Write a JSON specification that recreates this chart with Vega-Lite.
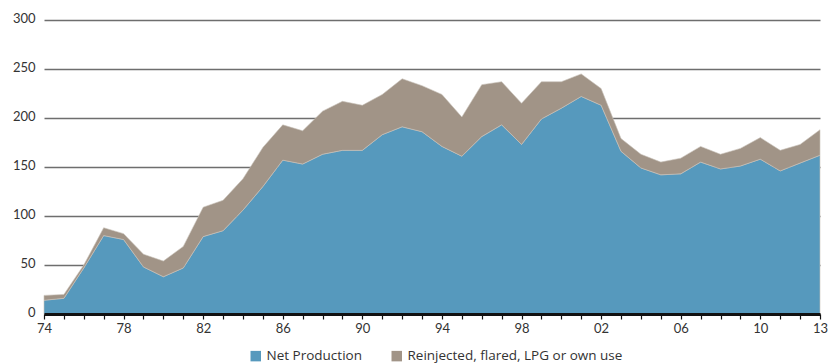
{
  "$schema": "https://vega.github.io/schema/vega-lite/v6.json",
  "width": 776,
  "height": 294,
  "autosize": "none",
  "padding": {"left": 44, "top": 20, "right": 15, "bottom": 49},
  "background": "white",
  "config": {
    "view": {"stroke": null},
    "font": "Lato"
  },
  "datasets": {
    "prod": [
      {"year": 1974, "net": 14, "total": 19},
      {"year": 1975, "net": 16, "total": 20},
      {"year": 1976, "net": 47, "total": 50},
      {"year": 1977, "net": 80, "total": 88},
      {"year": 1978, "net": 76, "total": 82},
      {"year": 1979, "net": 48, "total": 61},
      {"year": 1980, "net": 38, "total": 54},
      {"year": 1981, "net": 47, "total": 69},
      {"year": 1982, "net": 79, "total": 109},
      {"year": 1983, "net": 85, "total": 116},
      {"year": 1984, "net": 106, "total": 138},
      {"year": 1985, "net": 130, "total": 170},
      {"year": 1986, "net": 157, "total": 193},
      {"year": 1987, "net": 153, "total": 187},
      {"year": 1988, "net": 163, "total": 207},
      {"year": 1989, "net": 167, "total": 217},
      {"year": 1990, "net": 167, "total": 213},
      {"year": 1991, "net": 183, "total": 224},
      {"year": 1992, "net": 191, "total": 240},
      {"year": 1993, "net": 186, "total": 233},
      {"year": 1994, "net": 171, "total": 224},
      {"year": 1995, "net": 161, "total": 201},
      {"year": 1996, "net": 181, "total": 234},
      {"year": 1997, "net": 193, "total": 237},
      {"year": 1998, "net": 173, "total": 215},
      {"year": 1999, "net": 199, "total": 237},
      {"year": 2000, "net": 210, "total": 237},
      {"year": 2001, "net": 222, "total": 245},
      {"year": 2002, "net": 213, "total": 230},
      {"year": 2003, "net": 166, "total": 179},
      {"year": 2004, "net": 149, "total": 163},
      {"year": 2005, "net": 142, "total": 155},
      {"year": 2006, "net": 143, "total": 159},
      {"year": 2007, "net": 155, "total": 171},
      {"year": 2008, "net": 148, "total": 163},
      {"year": 2009, "net": 151, "total": 169},
      {"year": 2010, "net": 158, "total": 180},
      {"year": 2011, "net": 146, "total": 167},
      {"year": 2012, "net": 154, "total": 173},
      {"year": 2013, "net": 162, "total": 188}
    ]
  },
  "data": {"name": "prod"},
  "mark": {"type": "area", "stroke": "#c9c2bb", "strokeWidth": 0.6},
  "encoding": {
    "x": {
      "field": "year",
      "type": "quantitative",
      "scale": {"domain": [1974, 2013], "nice": false, "zero": false},
      "axis": {
        "title": null,
        "values": [1974,1975,1976,1977,1978,1979,1980,1981,1982,1983,1984,1985,1986,1987,1988,1989,1990,1991,1992,1993,1994,1995,1996,1997,1998,1999,2000,2001,2002,2003,2004,2005,2006,2007,2008,2009,2010,2011,2012,2013],
        "labelExpr": "indexof([1974,1978,1982,1986,1990,1994,1998,2002,2006,2010,2013], datum.value) >= 0 ? slice(toString(datum.value), 2) : ''",
        "grid": false,
        "domainColor": "#111",
        "domainWidth": 3,
        "tickColor": "#111",
        "tickWidth": 1.2,
        "tickSize": 5,
        "labelFont": "Lato",
        "labelFontSize": 13,
        "labelColor": "#333",
        "labelPadding": 3,
        "labelFlush": false,
        "labelOverlap": false,
        "zindex": 1
      }
    },
    "y": {
      "field": "value",
      "type": "quantitative",
      "stack": "zero",
      "scale": {"domain": [0, 300], "nice": false},
      "axis": {
        "title": null,
        "values": [0, 50, 100, 150, 200, 250, 300],
        "domain": false,
        "ticks": false,
        "grid": true,
        "gridColor": "#6e6e6e",
        "gridWidth": 1.3,
        "labelFont": "Lato",
        "labelFontSize": 13,
        "labelColor": "#333",
        "labelPadding": 9,
        "labelBaseline": "middle",
        "labelOffset": -2
      }
    },
    "color": {
      "field": "series",
      "type": "nominal",
      "scale": {
        "domain": ["Net Production", "Reinjected, flared, LPG or own use"],
        "range": ["#5699bd", "#a19487"]
      },
      "legend": {
        "title": null,
        "orient": "none",
        "legendX": 205,
        "legendY": 329,
        "direction": "horizontal",
        "symbolType": "square",
        "symbolSize": 110,
        "symbolStrokeWidth": 0,
        "symbolOpacity": 1,
        "labelFont": "Open Sans",
        "labelFontSize": 13.5,
        "labelColor": "#333",
        "labelLimit": 400,
        "columnPadding": 28,
        "labelOffset": 4
      }
    },
    "order": {"field": "ord", "type": "quantitative"}
  },
  "transform": [
    {"calculate": "datum.total - datum.net", "as": "other"},
    {"fold": ["net", "other"], "as": ["key", "value"]},
    {"calculate": "datum.key === 'net' ? 'Net Production' : 'Reinjected, flared, LPG or own use'", "as": "series"},
    {"calculate": "datum.key === 'net' ? 0 : 1", "as": "ord"}
  ]
}
